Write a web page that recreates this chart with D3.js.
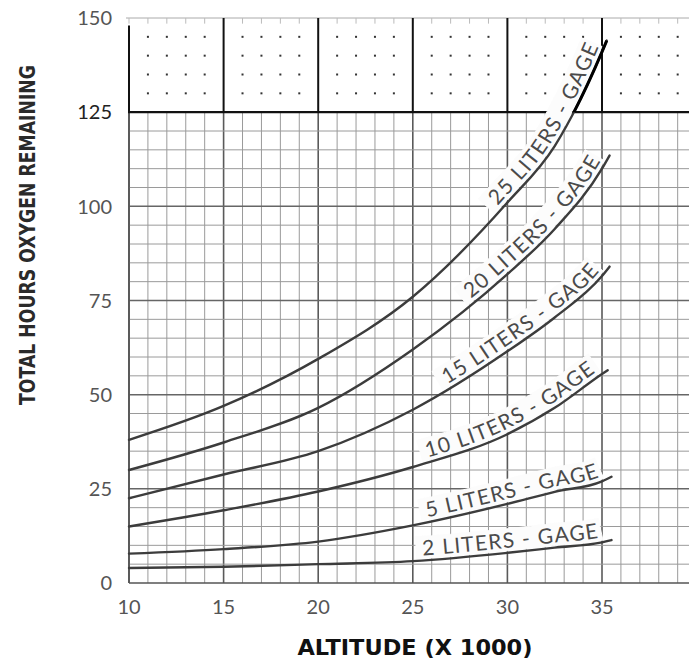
<!DOCTYPE html>
<html>
<head>
<meta charset="utf-8">
<script src="https://cdn.jsdelivr.net/npm/d3@7"></script>
<style>
  html, body { margin: 0; padding: 0; background: #fff; }
  svg { display: block; }
</style>
</head>
<body>
<svg id="chart" width="689" height="663"></svg>
<script>
// Oxygen duration chart: hours remaining vs. altitude for each gage reading.
const altitudes = [10, 15, 20, 25, 30, 32.5, 35];
const gageLiters = [25, 20, 15, 10, 5, 2];
const hours25 = [38, 47, 59.5, 76, 101, 116, 141];
const hours20 = [30, 37.3, 46.5, 62, 82, 94, 110];
const hours15 = [22.5, 28.8, 35, 46, 61.5, 70.5, 81.5];
const hours10 = [15, 19.3, 24.3, 30.8, 39.5, 46.5, 55.5];
const hours5  = [7.8, 9, 11, 15.3, 21, 24.2, 27];
const hours2  = [4, 4.3, 5, 5.8, 8, 9.4, 10.8];
const endAltitude = [35.25, 35.4, 35.4, 35.3, 35.5, 35.5];
const endHours = [144, 113.5, 84, 56.5, 28.2, 11.4];
const curveLabels = ["25 LITERS - GAGE", "20 LITERS - GAGE", "15 LITERS - GAGE",
                     "10 LITERS - GAGE", "5 LITERS - GAGE", "2 LITERS - GAGE"];
const xTickValues = [10, 15, 20, 25, 30, 35];
const yTickValues = [0, 25, 50, 75, 100, 125, 150];
const xTitle = "ALTITUDE (X 1000)";
const yTitle = "TOTAL HOURS OXYGEN REMAINING";

const hoursBySeries = [hours25, hours20, hours15, hours10, hours5, hours2];

const W = 689, H = 663;
const svg = d3.select("#chart");
const PAPER = "#fcfcfc";

const x = d3.scaleLinear().domain([10, 40]).range([129, 129 + 30 * 18.92]);
const y = d3.scaleLinear().domain([0, 150]).range([583, 18]);

const labelFont = "Lato, 'Open Sans', 'DejaVu Sans', sans-serif";
const LABEL_SIZE = 21;
const LABEL_SPACING = 1.3;
const END_GAP = 12;

// ---- lower grid (0 to 125 hours) ----
const grid = svg.append("g").attr("class", "grid");
const xMinor = d3.range(10, 40, 1);
grid.selectAll("line.vx").data(xMinor).join("line")
  .attr("x1", d => x(d)).attr("x2", d => x(d))
  .attr("y1", y(0)).attr("y2", y(125))
  .attr("stroke", d => d % 5 === 0 ? "#5a5a5a" : "#9a9a9a")
  .attr("stroke-width", d => d % 5 === 0 ? 1.6 : 1);

const yMinor = d3.range(5, 125, 5);
grid.selectAll("line.hy").data(yMinor).join("line")
  .attr("x1", x(10)).attr("x2", W)
  .attr("y1", d => y(d)).attr("y2", d => y(d))
  .attr("stroke", d => d % 25 === 0 ? "#666" : "#9a9a9a")
  .attr("stroke-width", d => d % 25 === 0 ? 1.5 : 1);

grid.append("line").attr("x1", x(10)).attr("x2", W)
  .attr("y1", y(0)).attr("y2", y(0)).attr("stroke", "#555").attr("stroke-width", 1.7);
grid.append("line").attr("x1", x(10)).attr("x2", x(10))
  .attr("y1", y(0)).attr("y2", y(125)).attr("stroke", "#555").attr("stroke-width", 1.7);

// ---- upper band (125 to 150 hours) ----
const upper = svg.append("g").attr("class", "upper");
upper.append("line").attr("x1", x(10) - 3).attr("x2", W)
  .attr("y1", y(150)).attr("y2", y(150)).attr("stroke", "#aaa").attr("stroke-width", 1);
upper.selectAll("line.tick").data(xMinor).join("line")
  .attr("x1", d => x(d)).attr("x2", d => x(d))
  .attr("y1", y(150)).attr("y2", y(148.5))
  .attr("stroke", "#bbb").attr("stroke-width", 1);
const dotRows = [130, 135, 140, 145];
const dots = [];
xMinor.forEach(a => { if (a % 5 !== 0) dotRows.forEach(h => dots.push([a, h])); });
upper.selectAll("rect.dot").data(dots).join("rect")
  .attr("x", d => x(d[0]) - 1).attr("y", d => y(d[1]) - 1)
  .attr("width", 2).attr("height", 2).attr("fill", "#333");
upper.selectAll("line.major").data(xTickValues).join("line")
  .attr("x1", d => x(d)).attr("x2", d => x(d))
  .attr("y1", d => d === 10 ? y(148) : y(150)).attr("y2", y(125))
  .attr("stroke", "#111").attr("stroke-width", 2);
upper.append("line").attr("x1", x(10) - 1).attr("x2", W)
  .attr("y1", y(125)).attr("y2", y(125)).attr("stroke", "#111").attr("stroke-width", 2.4);

// ---- curves ----
const line = d3.line().x(d => x(d[0])).y(d => y(d[1])).curve(d3.curveMonotoneX);
const seriesPoints = hoursBySeries.map((hs, i) => {
  const pts = altitudes.map((a, j) => [a, hs[j]]);
  pts.push([endAltitude[i], endHours[i]]);
  return pts;
});

const bandLayer = svg.append("g").attr("class", "bands");
const curveLayer = svg.append("g").attr("class", "curves");
const textLayer = svg.append("g").attr("class", "labels");

svg.append("defs").append("clipPath").attr("id", "upperBand")
  .append("rect").attr("x", 0).attr("y", 0).attr("width", W).attr("height", y(125));

function labelWidth(str) {
  const m = svg.append("text")
    .attr("font-family", labelFont).attr("font-size", LABEL_SIZE)
    .attr("letter-spacing", LABEL_SPACING).attr("x", 10).attr("y", 10).text(str);
  const w = m.node().getComputedTextLength();
  m.remove();
  return (w > 0 && isFinite(w)) ? w : str.length * LABEL_SIZE * 0.6;
}

const stripPolys = [];
seriesPoints.forEach((pts, i) => {
  const d = line(pts);
  const p = curveLayer.append("path").attr("d", d)
    .attr("fill", "none").attr("stroke", "#3c3c3c").attr("stroke-width", 2.4)
    .attr("stroke-linecap", "round");
  curveLayer.append("path").attr("d", d).attr("clip-path", "url(#upperBand)")
    .attr("fill", "none").attr("stroke", "#000").attr("stroke-width", 3);

  // samples along the curve with unit normals pointing to the upper-left side
  const node = p.node();
  const total = node.getTotalLength();
  const samples = [];
  for (let s = 0; s <= total; s += 1.5) {
    const a = node.getPointAtLength(Math.max(0, s - 1));
    const b = node.getPointAtLength(Math.min(total, s + 1));
    const c = node.getPointAtLength(s);
    const tx = b.x - a.x, ty = b.y - a.y;
    const len = Math.hypot(tx, ty) || 1;
    samples.push({ s: s, x: c.x, y: c.y, nx: ty / len, ny: -tx / len });
  }
  const offsetPoints = (off, lo, hi) => samples
    .filter(q => q.s >= lo && q.s <= hi)
    .map(q => [q.x + q.nx * off, q.y + q.ny * off]);

  const tl = labelWidth(curveLabels[i]);
  const endS = total - END_GAP;
  const startS = endS - tl;

  // paper-coloured backing strip behind the label: region between two offset lines
  const inner = offsetPoints(2, startS - 6, endS + 5);
  const outer = offsetPoints(24, startS - 6, endS + 5);
  stripPolys.push(inner.concat(outer.reverse()));

  const id = "lbl" + i;
  textLayer.append("path").attr("id", id)
    .attr("d", d3.line()(offsetPoints(5, 0, total)))
    .attr("fill", "none").attr("stroke", "none");
  textLayer.append("text")
    .attr("font-family", labelFont).attr("font-size", LABEL_SIZE)
    .attr("fill", "#4a4a4a").attr("letter-spacing", LABEL_SPACING)
    .append("textPath").attr("href", "#" + id)
    .attr("startOffset", Math.max(0, startS))
    .text(curveLabels[i]);
});

bandLayer.selectAll("path").data(stripPolys).join("path")
  .attr("d", d => d.length > 2 ? "M" + d.map(q => q[0].toFixed(2) + "," + q[1].toFixed(2)).join("L") + "Z" : null)
  .attr("fill", PAPER).attr("stroke", PAPER).attr("stroke-width", 1);

// ---- tick labels ----
const tickFont = "Lato, 'Open Sans', 'Liberation Sans', sans-serif";
svg.append("g").selectAll("text").data(yTickValues).join("text")
  .attr("x", 112).attr("y", d => y(d))
  .attr("dy", "0.36em").attr("text-anchor", "end")
  .attr("font-family", tickFont).attr("font-size", 20)
  .attr("fill", d => d === 125 ? "#222" : "#555")
  .text(d => d);

svg.append("g").selectAll("text").data(xTickValues).join("text")
  .attr("x", d => x(d)).attr("y", 614)
  .attr("text-anchor", "middle")
  .attr("font-family", tickFont).attr("font-size", 20)
  .attr("fill", "#555")
  .text(d => d);

// ---- axis titles ----
svg.append("text")
  .attr("x", 415).attr("y", 655).attr("text-anchor", "middle")
  .attr("font-family", "'DejaVu Sans', sans-serif").attr("font-weight", "bold")
  .attr("font-size", 22).attr("fill", "#111")
  .attr("textLength", 235).attr("lengthAdjust", "spacingAndGlyphs")
  .text(xTitle);

svg.append("text")
  .attr("transform", "translate(35,235) rotate(-90)")
  .attr("text-anchor", "middle")
  .attr("font-family", "'DejaVu Sans', sans-serif").attr("font-weight", "bold")
  .attr("font-size", 21).attr("fill", "#2a2a2a")
  .attr("textLength", 340).attr("lengthAdjust", "spacingAndGlyphs")
  .text(yTitle);
</script>
</body>
</html>
